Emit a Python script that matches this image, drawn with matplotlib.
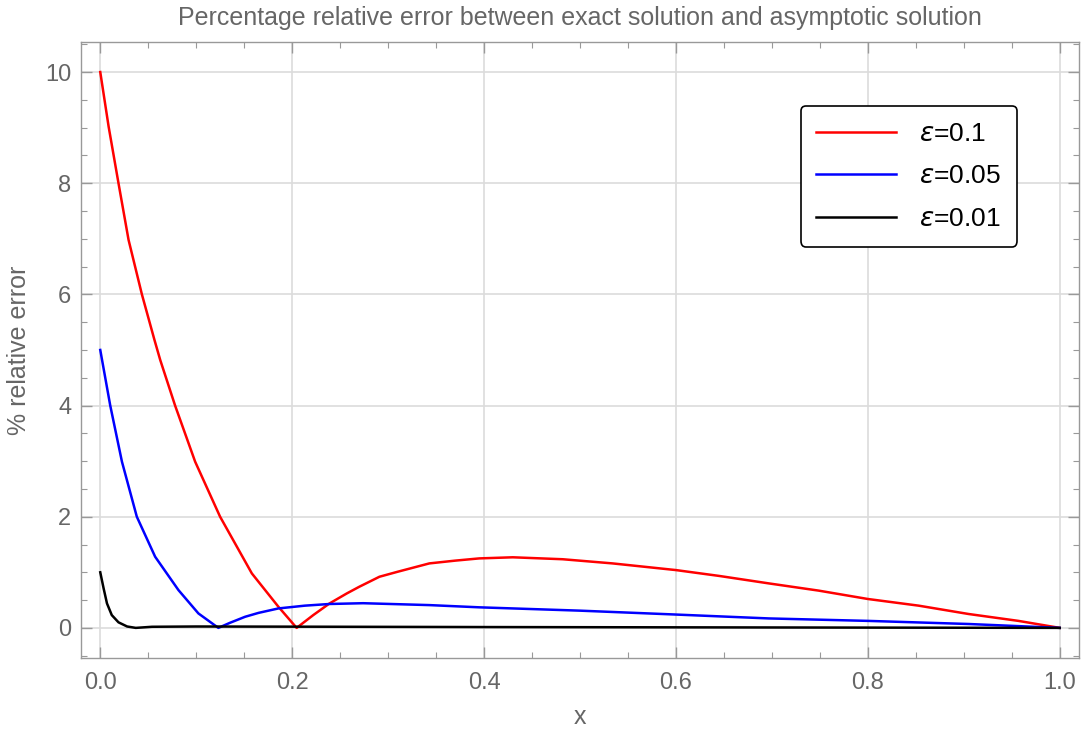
import numpy as np
import matplotlib
matplotlib.use("Agg")
import matplotlib.pyplot as plt
from matplotlib.ticker import MultipleLocator

# values
x_01 = [0, 0.0087, 0.019, 0.0295, 0.0434, 0.0565, 0.0625, 0.078, 0.0989, 0.1249,
        0.158, 0.1857, 0.2047, 0.222, 0.239, 0.257, 0.27, 0.291, 0.31, 0.343,
        0.37, 0.395, 0.430, 0.482, 0.534, 0.600, 0.645, 0.697, 0.749, 0.800,
        0.853, 0.905, 0.957, 1.0]
y_01 = [10, 9.02, 8, 6.98, 6, 5.18, 4.82, 4, 2.99, 2,
        0.98, 0.38, 0, 0.23, 0.44, 0.62, 0.74, 0.92, 1.01, 1.16,
        1.21, 1.25, 1.27, 1.235, 1.16, 1.04, 0.935, 0.80, 0.67, 0.52,
        0.40, 0.25, 0.126, 0]

x_005 = [0, 0.0104, 0.0226, 0.0381, 0.0572, 0.0815, 0.1023, 0.1231, 0.135, 0.151,
         0.165, 0.1857, 0.2133, 0.239, 0.274, 0.343, 0.395, 0.50, 0.60, 0.697,
         0.80, 0.905, 1.0]
y_005 = [5, 4, 2.99, 2, 1.28, 0.68, 0.26, 0, 0.09, 0.20,
         0.27, 0.35, 0.40, 0.43, 0.444, 0.41, 0.37, 0.31, 0.24, 0.17,
         0.126, 0.07, 0]

x_001 = [0, 0.0035, 0.007, 0.012, 0.019, 0.028, 0.037, 0.054, 0.1, 0.2,
         0.4, 0.6, 0.8, 1.0]
y_001 = [1.0, 0.71, 0.44, 0.23, 0.10, 0.025, 0, 0.02, 0.025, 0.022,
         0.015, 0.01, 0.005, 0]

# matplotlib's \varepsilon is the lunate form
labels = [r"$\varepsilon$=0.1", r"$\varepsilon$=0.05", r"$\varepsilon$=0.01"]

plt.rcParams['font.family'] = ['Liberation Sans', 'DejaVu Sans']
plt.rcParams['mathtext.fontset'] = 'dejavusans'
gray = '#666666'

fig = plt.figure(figsize=(10.81, 7.31), dpi=100)
ax = fig.add_axes([0.075, 0.1, 0.923, 0.8425])

ax.plot(x_01, y_01, color='#ff0000', lw=1.8, label=labels[0], solid_joinstyle='round')
ax.plot(x_005, y_005, color='#0000ff', lw=1.8, label=labels[1], solid_joinstyle='round')
ax.plot(x_001, y_001, color='black', lw=1.8, label=labels[2], solid_joinstyle='round')

ax.set_xlim(-0.02, 1.02)
ax.set_ylim(-0.54, 10.54)
ax.xaxis.set_major_locator(MultipleLocator(0.2))
ax.xaxis.set_minor_locator(MultipleLocator(0.05))
ax.yaxis.set_major_locator(MultipleLocator(2))
ax.yaxis.set_minor_locator(MultipleLocator(0.5))
ax.xaxis.set_major_formatter(plt.FuncFormatter(lambda v, p: f"{v:.1f}"))

ax.tick_params(which='both', direction='in', top=True, right=True,
               color='#999999', labelcolor=gray, labelsize=17)
ax.tick_params(which='major', length=8, width=1)
ax.tick_params(which='minor', length=4.5, width=0.8)
ax.tick_params(axis='x', pad=10)
ax.tick_params(axis='y', pad=7)
for s in ax.spines.values():
    s.set_color('#999999')
    s.set_linewidth(1)

ax.grid(True, which='major', color='#dcdcdc', lw=1.2)
ax.set_axisbelow(True)

ax.set_title("Percentage relative error between exact solution and asymptotic solution",
             color=gray, fontsize=18, pad=12)
ax.set_xlabel("x", color=gray, fontsize=18, labelpad=8)
ax.set_ylabel("% relative error", color=gray, fontsize=18, labelpad=10)

leg = ax.legend(loc='upper right', bbox_to_anchor=(0.938, 0.896), borderaxespad=0,
                fontsize=19, frameon=True, fancybox=True, handlelength=3.0,
                handletextpad=0.9, labelspacing=0.7, borderpad=0.6, framealpha=1)
leg.get_frame().set_edgecolor('black')
leg.get_frame().set_linewidth(1.2)

fig.savefig("out.png", dpi=100)
